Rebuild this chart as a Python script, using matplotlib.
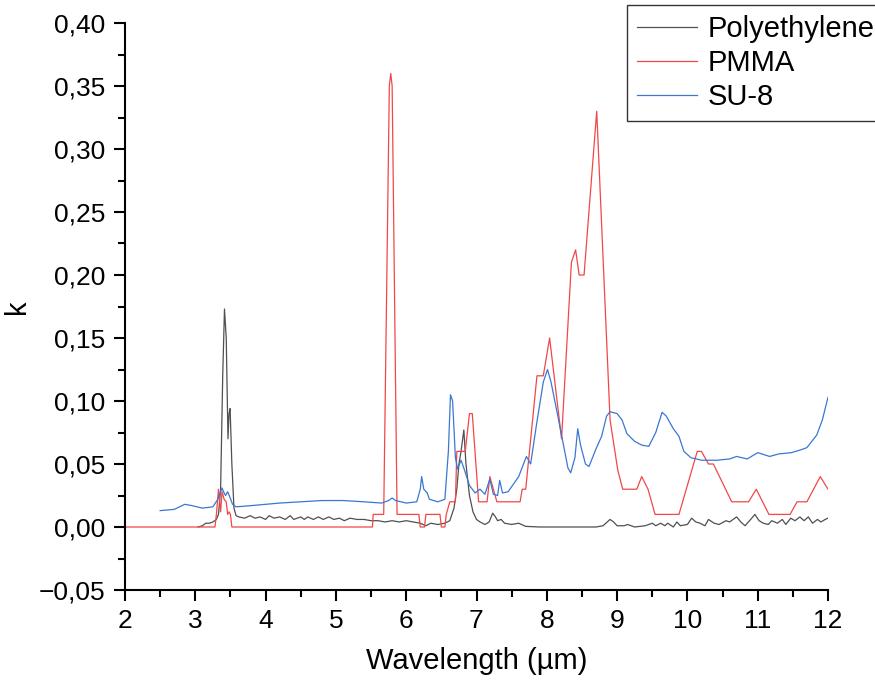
import matplotlib
import numpy as np

matplotlib.use("Agg")
import matplotlib.pyplot as plt
from matplotlib.ticker import FuncFormatter, MultipleLocator

plt.rcParams["font.family"] = ["Liberation Sans", "DejaVu Sans"]

# PMMA
pmma_x = [2.0, 3.28, 3.30, 3.33, 3.36, 3.38, 3.41, 3.44, 3.46, 3.48, 3.50, 3.52,
          5.52, 5.53, 5.68, 5.76, 5.78, 5.80, 5.87, 6.18, 6.20, 6.26, 6.28, 6.48,
          6.50, 6.55, 6.57, 6.62, 6.70, 6.72, 6.84, 6.90, 6.94, 7.03, 7.15, 7.19,
          7.29, 7.62, 7.65, 7.70, 7.86, 7.95, 8.04, 8.21, 8.35, 8.41, 8.46, 8.53,
          8.71, 8.90, 9.01, 9.08, 9.28, 9.35, 9.44, 9.54, 9.88, 10.14, 10.20, 10.30,
          10.37, 10.63, 10.87, 10.98, 11.16, 11.46, 11.56, 11.70, 11.89, 12.0]
pmma_k = [0.0, 0.0, 0.01, 0.03, 0.012, 0.028, 0.022, 0.02, 0.01, 0.012, 0.01, 0.0,
          0.0, 0.01, 0.01, 0.35, 0.36, 0.35, 0.01, 0.01, 0.0, 0.0, 0.01, 0.01,
          0.0, 0.0, 0.01, 0.02, 0.02, 0.06, 0.06, 0.09, 0.09, 0.02, 0.02, 0.04,
          0.02, 0.02, 0.03, 0.03, 0.12, 0.12, 0.15, 0.07, 0.21, 0.22, 0.20, 0.20,
          0.33, 0.085, 0.045, 0.03, 0.03, 0.04, 0.03, 0.01, 0.01, 0.06, 0.06, 0.05,
          0.05, 0.02, 0.02, 0.03, 0.01, 0.01, 0.02, 0.02, 0.04, 0.03]

# SU-8
su8_x = [2.5, 2.7, 2.85, 2.95, 3.1, 3.25, 3.32, 3.38, 3.41, 3.43, 3.46, 3.49,
         3.53, 3.58, 3.8, 4.2, 4.5, 4.8, 5.1, 5.4, 5.65, 5.75, 5.8, 5.85, 6.0,
         6.15, 6.2, 6.22, 6.25, 6.3, 6.33, 6.45, 6.55, 6.6, 6.63, 6.66, 6.7,
         6.73, 6.78, 6.83, 6.9, 6.98, 7.05, 7.12, 7.19, 7.24, 7.3, 7.33, 7.37,
         7.45, 7.6, 7.71, 7.77, 7.85, 7.95, 8.01, 8.06, 8.15, 8.22, 8.3, 8.34,
         8.4, 8.44, 8.48, 8.55, 8.6, 8.7, 8.78, 8.85, 8.9, 9.0, 9.07, 9.14, 9.25,
         9.35, 9.45, 9.55, 9.64, 9.7, 9.8, 9.88, 9.95, 10.05, 10.2, 10.42, 10.6,
         10.7, 10.85, 11.0, 11.17, 11.3, 11.48, 11.6, 11.7, 11.84, 11.92, 12.0]
su8_k = [0.013, 0.014, 0.018, 0.017, 0.015, 0.016, 0.022, 0.031, 0.027, 0.025,
         0.028, 0.024, 0.018, 0.016, 0.017, 0.019, 0.020, 0.021, 0.021, 0.020,
         0.019, 0.021, 0.023, 0.021, 0.019, 0.020, 0.030, 0.040, 0.030, 0.027,
         0.022, 0.020, 0.022, 0.060, 0.105, 0.100, 0.055, 0.046, 0.053, 0.045,
         0.033, 0.027, 0.030, 0.026, 0.038, 0.026, 0.025, 0.037, 0.027, 0.028,
         0.040, 0.056, 0.050, 0.080, 0.115, 0.125, 0.115, 0.090, 0.070, 0.047,
         0.043, 0.055, 0.078, 0.065, 0.050, 0.048, 0.062, 0.072, 0.088, 0.0915,
         0.090, 0.085, 0.074, 0.068, 0.065, 0.064, 0.075, 0.091, 0.088, 0.078,
         0.072, 0.060, 0.055, 0.053, 0.053, 0.054, 0.056, 0.054, 0.059, 0.056,
         0.058, 0.059, 0.061, 0.063, 0.073, 0.085, 0.103]

# Polyethylene
pe_x = [3.04, 3.1, 3.15, 3.2, 3.25, 3.3, 3.33, 3.36, 3.39, 3.415, 3.44, 3.465,
        3.48, 3.495, 3.52, 3.55, 3.58, 3.62, 3.7, 3.78, 3.85, 3.92, 4.0, 4.05,
        4.12, 4.2, 4.28, 4.35, 4.4, 4.5, 4.55, 4.6, 4.68, 4.75, 4.82, 4.9, 4.97,
        5.05, 5.12, 5.2, 5.3, 5.4, 5.5, 5.6, 5.7, 5.8, 5.9, 6.0, 6.1, 6.2, 6.28,
        6.35, 6.45, 6.55, 6.62, 6.68, 6.72, 6.75, 6.78, 6.82, 6.85, 6.9, 6.95,
        7.0, 7.05, 7.12, 7.18, 7.23, 7.27, 7.3, 7.35, 7.4, 7.5, 7.6, 7.7, 7.9,
        8.7, 8.8, 8.9, 8.95, 9.0, 9.1, 9.15, 9.25, 9.4, 9.5, 9.55, 9.62, 9.68,
        9.72, 9.8, 9.85, 9.9, 10.0, 10.06, 10.12, 10.18, 10.25, 10.3, 10.38,
        10.45, 10.55, 10.6, 10.7, 10.76, 10.82, 10.9, 10.96, 11.02, 11.08, 11.15,
        11.2, 11.28, 11.35, 11.4, 11.47, 11.53, 11.6, 11.66, 11.72, 11.78, 11.85,
        11.9, 11.96, 12.0]
pe_k = [0.0, 0.001, 0.003, 0.003, 0.004, 0.006, 0.01, 0.03, 0.12, 0.173, 0.15,
        0.07, 0.09, 0.094, 0.05, 0.015, 0.009, 0.008, 0.007, 0.009, 0.007, 0.008,
        0.006, 0.009, 0.007, 0.008, 0.006, 0.009, 0.006, 0.008, 0.006, 0.008,
        0.006, 0.008, 0.006, 0.008, 0.006, 0.007, 0.005, 0.007, 0.006, 0.006,
        0.005, 0.005, 0.004, 0.005, 0.004, 0.005, 0.004, 0.003, 0.001, 0.003,
        0.002, 0.003, 0.005, 0.015, 0.03, 0.05, 0.06, 0.077, 0.05, 0.025, 0.012,
        0.006, 0.004, 0.002, 0.004, 0.011, 0.008, 0.005, 0.006, 0.003, 0.002,
        0.003, 0.0005, 0.0, 0.0, 0.001, 0.006, 0.004, 0.001, 0.001, 0.002, 0.0,
        0.001, 0.003, 0.001, 0.003, 0.001, 0.003, 0.0, 0.004, 0.001, 0.002,
        0.007, 0.004, 0.003, 0.001, 0.006, 0.003, 0.002, 0.005, 0.004, 0.008,
        0.004, 0.001, 0.006, 0.01, 0.005, 0.003, 0.002, 0.005, 0.003, 0.006,
        0.002, 0.007, 0.005, 0.008, 0.005, 0.008, 0.003, 0.006, 0.004, 0.006,
        0.007]


def comma_fmt(value, pos):
    text = f"{abs(value):.2f}".replace(".", ",")
    return "\u2212" + text if value < -1e-9 else text


fig = plt.figure(figsize=(8.75, 6.8), dpi=100)
ax = fig.add_axes([125 / 875, 1 - 590 / 680, 703 / 875, 567 / 680])

ax.plot(pe_x, pe_k, color="#505050", linewidth=0.9, label="Polyethylene")
ax.plot(pmma_x, pmma_k, color="#f04848", linewidth=0.9, label="PMMA")
ax.plot(su8_x, su8_k, color="#3a78d0", linewidth=0.9, label="SU-8")

ax.set_xlim(2, 12)
ax.set_ylim(-0.05, 0.40)
ax.xaxis.set_major_locator(MultipleLocator(1))
ax.xaxis.set_minor_locator(MultipleLocator(0.5))
ax.yaxis.set_major_locator(MultipleLocator(0.05))
ax.yaxis.set_minor_locator(MultipleLocator(0.025))
ax.yaxis.set_major_formatter(FuncFormatter(comma_fmt))

for side in ["top", "right"]:
    ax.spines[side].set_visible(False)
for side in ["left", "bottom"]:
    ax.spines[side].set_linewidth(1.5)

ax.tick_params(which="major", direction="out", length=8, width=1.5, labelsize=19, pad=6)
ax.tick_params(which="minor", direction="out", length=5, width=1.5)

ax.set_xlabel("Wavelength (µm)", fontsize=21, labelpad=10)
ax.set_ylabel("k", fontsize=21, labelpad=6)

legend = fig.legend(loc="upper left", bbox_to_anchor=(627 / 875, 1 - 5 / 680),
                    fontsize=21, frameon=True, fancybox=False, edgecolor="black",
                    handlelength=2.05, handletextpad=0.35, borderpad=0.35,
                    labelspacing=0.2, borderaxespad=0)
legend.get_frame().set_linewidth(1.0)

fig.savefig("out.png", dpi=100)
